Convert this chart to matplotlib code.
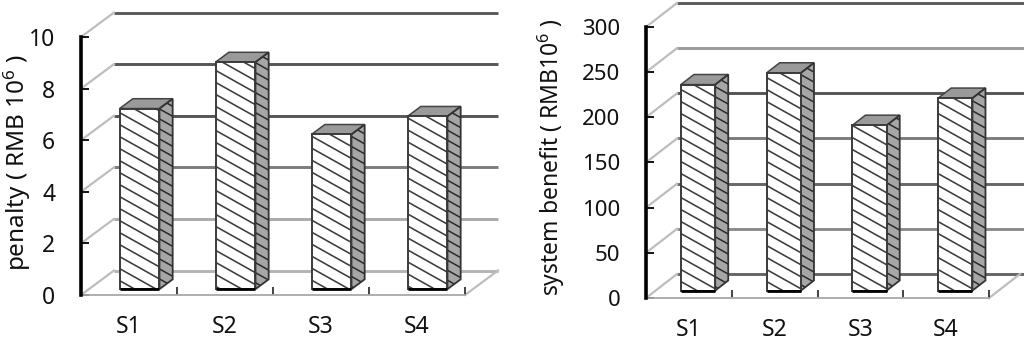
import numpy as np
import matplotlib
matplotlib.use("Agg")
import matplotlib.pyplot as plt
from matplotlib.patches import Polygon
from matplotlib.collections import LineCollection

plt.rcParams['font.family'] = ['Noto Sans', 'DejaVu Sans']
plt.rcParams['mathtext.fontset'] = 'custom'
plt.rcParams['mathtext.rm'] = 'Noto Sans'
plt.rcParams['mathtext.default'] = 'regular'

categories = ['S1', 'S2', 'S3', 'S4']
penalty = [7.0, 8.8, 6.0, 6.7]
benefit = [228, 241, 183, 213]
penalty_ticks = [0, 2, 4, 6, 8, 10]
benefit_ticks = [0, 50, 100, 150, 200, 250, 300]
penalty_grid_colors = ['#b4b4b4', '#aaaaaa', '#7c7c7c', '#555555', '#555555', '#5a5a5a']
benefit_grid_colors = ['#666666', '#8c8c8c', '#666666', '#7c7c7c', '#555555', '#999999', '#5a5a5a']

W, H = 1024, 342
fig = plt.figure(figsize=(W / 100, H / 100), dpi=100, facecolor='white')


def panel(rect_px, values, ticks, grid_colors, ylabel, depth_px, base_depth, bar_start,
          bar_width, side_depth, label_size, ylab_size, ylab_x, ylab_y, right_px):
    x0, x1, y0, y1 = rect_px
    ax = fig.add_axes([x0 / W, 1 - y0 / H, (x1 - x0) / W, (y0 - y1) / H])
    ymax = ticks[-1]
    n = len(values)
    ax.set_xlim(0, n)
    ax.set_ylim(0, ymax)
    ax.patch.set_alpha(0)
    sx = (x1 - x0) / n
    sy = (y0 - y1) / ymax
    ddx = depth_px[0] / sx
    ddy = depth_px[1] / sy

    def P(x, y, d):
        return (x + d * ddx, y + d * ddy)

    xright = (right_px - x0) / sx
    for t, c in zip(ticks, grid_colors):
        ax.plot([ddx, xright], [t + ddy, t + ddy], color=c, lw=2.1, clip_on=False, zorder=1,
                solid_capstyle='butt')
        ax.plot([0, ddx], [t, t + ddy], color='#bdbdbd', lw=1.6, clip_on=False, zorder=1)
    ax.plot([n, n + ddx], [0, ddy], color='#bdbdbd', lw=1.6, clip_on=False, zorder=1)

    def hatch(poly, clip, slope=0.56, gap=12.0, color='#3c3c3c', lw=1.15, z=3.1):
        pts = np.array(poly)
        xs = pts[:, 0] * sx
        ys = pts[:, 1] * sy
        c = ys + slope * xs
        segs = []
        for k in np.arange(np.floor(c.min() / gap), np.ceil(c.max() / gap) + 1):
            cc = k * gap
            xa, xb = xs.min() - 2, xs.max() + 2
            segs.append(np.array([(xa / sx, (cc - slope * xa) / sy),
                                  (xb / sx, (cc - slope * xb) / sy)]))
        lc = LineCollection(segs, colors=color, linewidths=lw, zorder=z)
        ax.add_collection(lc, autolim=False)
        lc.set_clip_path(clip)
        return lc

    for i, v in enumerate(values):
        l = i + bar_start
        r = l + bar_width
        d0, d1 = base_depth, base_depth + side_depth
        front = [P(l, 0, d0), P(r, 0, d0), P(r, v, d0), P(l, v, d0)]
        side = [P(r, 0, d0), P(r, 0, d1), P(r, v, d1), P(r, v, d0)]
        top = [P(l, v, d0), P(r, v, d0), P(r, v, d1), P(l, v, d1)]

        ps = Polygon(side, closed=True, fc='#a6a6a6', ec='none', zorder=2.5, clip_on=False)
        ax.add_patch(ps)
        hatch(side, ps, gap=10.0, lw=1.1, color='#2a2a2a', z=2.6)
        ax.add_patch(Polygon(side, closed=True, fc='none', ec='#333333', lw=1.3, zorder=2.7,
                             clip_on=False))
        pt = Polygon(top, closed=True, fc='#9a9a9a', ec='#444444', lw=1.1, zorder=2.5, clip_on=False)
        ax.add_patch(pt)
        pf = Polygon(front, closed=True, fc='white', ec='none', zorder=3, clip_on=False)
        ax.add_patch(pf)
        hatch(front, pf)
        ax.add_patch(Polygon(front, closed=True, fc='none', ec='#3a3a3a', lw=1.4, zorder=3.2,
                             clip_on=False))
        ax.plot([front[0][0], front[1][0]], [front[0][1], front[1][1]], color='black', lw=2.0,
                zorder=3.3, clip_on=False, solid_capstyle='butt')

    for s in ['top', 'right']:
        ax.spines[s].set_visible(False)
    ax.spines['left'].set_linewidth(2.6)
    ax.spines['left'].set_color('black')
    ax.spines['left'].set_zorder(5)
    ax.spines['bottom'].set_linewidth(1.3)
    ax.spines['bottom'].set_color('#a8a8a8')

    ax.set_yticks(ticks)
    ax.tick_params(axis='y', direction='in', length=6, width=1.3, color='black',
                   pad=18.5, labelsize=label_size, labelcolor='#111111')
    ax.set_xticks(range(n + 1))
    ax.set_xticklabels([''] * (n + 1))
    ax.tick_params(axis='x', which='major', direction='in', length=5.5, width=1.2, color='#222222')
    ax.set_xticks([i + 0.5 for i in range(n)], categories, minor=True)
    ax.tick_params(axis='x', which='minor', length=0, pad=14.5, labelsize=16.5, labelcolor='#111111')
    fig.text(ylab_x / W, 1 - ylab_y / H, ylabel, rotation=90, ha='center', va='center',
             fontsize=ylab_size, color='#111111')


panel((81, 465, 295, 37), penalty, penalty_ticks, penalty_grid_colors,
      'penalty ( RMB 10$^{6}$ )', (33, 24.5), 0.24, 0.32, 0.415, 0.40, 16.5, 17.5, 17, 162, 498)
panel((646, 989, 298, 27), benefit, benefit_ticks, benefit_grid_colors,
      'system benefit ( RMB10$^{6}$ )', (31, 24), 0.31, 0.295, 0.40, 0.42, 16, 16.5, 551, 157, 1024)

fig.savefig('out.png', dpi=100)
